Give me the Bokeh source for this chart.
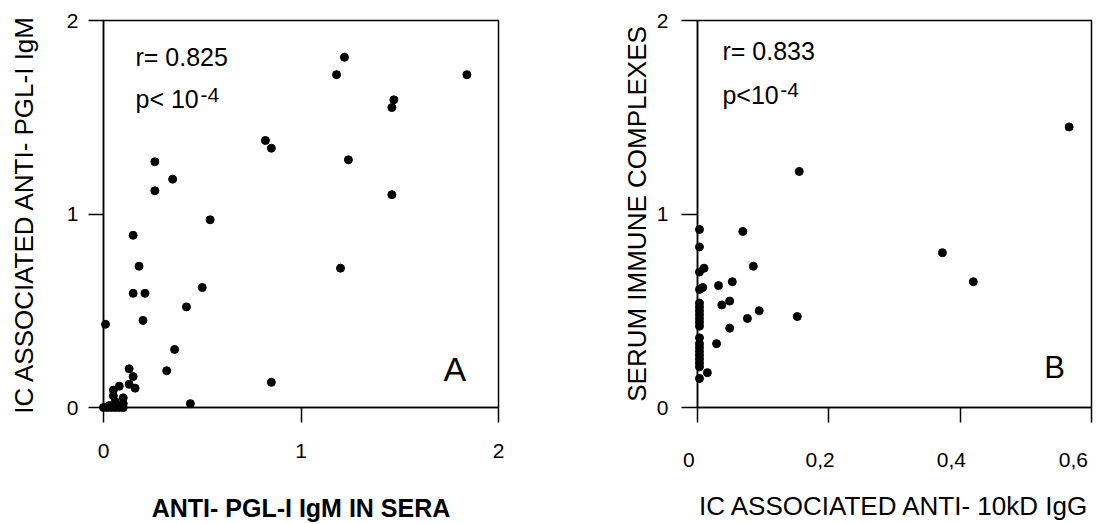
from bokeh.plotting import figure
from bokeh.layouts import row
from bokeh.models import FixedTicker, Label
from bokeh.embed import file_html
from bokeh.resources import INLINE

# ---- Panel A data: anti-PGL-I IgM in sera vs IC associated anti-PGL-I IgM
a_x = [1.84, 1.22, 1.18, 1.47, 1.46, 0.82, 0.85, 1.24, 1.46, 1.20,
       0.26, 0.26, 0.35, 0.54, 0.15, 0.18, 0.15, 0.21, 0.50, 0.42,
       0.20, 0.01, 0.36, 0.32, 0.85, 0.44,
       0.13, 0.15, 0.13, 0.16, 0.08, 0.05, 0.05, 0.10, 0.10, 0.06,
       0.00, 0.02, 0.04, 0.06, 0.08, 0.10, 0.03, 0.07]
a_y = [1.72, 1.81, 1.72, 1.59, 1.55, 1.38, 1.34, 1.28, 1.10, 0.72,
       1.27, 1.12, 1.18, 0.97, 0.89, 0.73, 0.59, 0.59, 0.62, 0.52,
       0.45, 0.43, 0.30, 0.19, 0.13, 0.02,
       0.20, 0.16, 0.12, 0.10, 0.11, 0.09, 0.06, 0.05, 0.02, 0.03,
       0.00, 0.00, 0.00, 0.00, 0.00, 0.00, 0.01, 0.01]

# ---- Panel B data: IC associated anti-10kD IgG vs serum immune complexes
b_x = [0.566, 0.155, 0.373, 0.420, 0.069, 0.085, 0.053, 0.032, 0.049, 0.037,
       0.094, 0.076, 0.049, 0.029, 0.152, 0.015, 0.010, 0.008,
       0.003, 0.003, 0.003, 0.003, 0.003, 0.003, 0.003, 0.003, 0.003, 0.003,
       0.003, 0.003, 0.003, 0.003, 0.003, 0.003, 0.003, 0.003, 0.003, 0.003]
b_y = [1.45, 1.22, 0.80, 0.65, 0.91, 0.73, 0.65, 0.63, 0.55, 0.53,
       0.50, 0.46, 0.41, 0.33, 0.47, 0.18, 0.72, 0.62,
       0.92, 0.83, 0.70, 0.61, 0.54, 0.52, 0.50, 0.48, 0.46, 0.44,
       0.42, 0.36, 0.33, 0.31, 0.29, 0.27, 0.25, 0.23, 0.21, 0.15]

a_ticks = [0, 1, 2]
b_xticks = [0, 0.2, 0.4, 0.6]
b_xtick_labels = ["0", "0,2", "0,4", "0,6"]
b_yticks = [0, 1, 2]

FONT = "Liberation Sans"
NB = "\u00a0\u00a0\u00a0"


def style(p):
    p.outline_line_color = "black"
    p.outline_line_width = 1.5
    p.outline_line_alpha = 1.0
    p.xgrid.visible = False
    p.ygrid.visible = False
    p.background_fill_color = "white"
    p.border_fill_color = "white"
    for ax in (p.xaxis[0], p.yaxis[0]):
        ax.axis_line_width = 1.5
        ax.axis_line_color = "black"
        ax.major_tick_line_width = 1.5
        ax.major_tick_line_color = "black"
        ax.major_tick_in = 0
        ax.major_tick_out = 15
        ax.minor_tick_line_color = None
        ax.major_label_text_font = FONT
        ax.major_label_text_font_size = "21px"
        ax.major_label_text_color = "black"
        ax.axis_label_text_font = FONT
        ax.axis_label_text_font_style = "normal"
        ax.axis_label_text_color = "black"


def note(p, x, y, text, size):
    p.add_layout(Label(x=x, y=y, text=text, text_font=FONT, text_font_size=size,
                       text_color="black", text_baseline="bottom"))


# ---------------- Panel A ----------------
pA = figure(width=560, height=524, x_range=(0, 2), y_range=(0, 2),
            output_backend="svg", toolbar_location=None,
            min_border_left=103, min_border_right=62,
            min_border_top=17, min_border_bottom=112)
style(pA)
pA.xaxis.ticker = FixedTicker(ticks=a_ticks)
pA.yaxis.ticker = FixedTicker(ticks=a_ticks)
pA.xaxis.axis_label = "ANTI- PGL-I IgM IN SERA"
pA.xaxis.axis_label_text_font_size = "25px"
pA.xaxis.axis_label_text_font_style = "bold"
pA.xaxis.major_label_standoff = 21
pA.xaxis.axis_label_standoff = 33
pA.yaxis.axis_label = "IC ASSOCIATED ANTI- PGL-I IgM"
pA.yaxis.axis_label_text_font_size = "26px"
pA.yaxis.major_label_standoff = 10
pA.yaxis.axis_label_standoff = 25
pA.scatter(a_x, a_y, size=8, color="black", level="overlay")

note(pA, 0.162, 1.738, "r= 0.825", "25px")
note(pA, 0.162, 1.520, "p< 10", "25px")
note(pA, 0.491, 1.580, "-4", "21px")
note(pA, 1.722, 0.101, "A", "34px")

# ---------------- Panel B ----------------
pB = figure(width=545, height=524, x_range=(0, 0.6), y_range=(0, 2),
            output_backend="svg", toolbar_location=None,
            min_border_left=137, min_border_right=14,
            min_border_top=20, min_border_bottom=110)
style(pB)
pB.xaxis.ticker = FixedTicker(ticks=b_xticks)
pB.xaxis.major_label_overrides = {t: lab + NB for t, lab in zip(b_xticks, b_xtick_labels)}
pB.yaxis.ticker = FixedTicker(ticks=b_yticks)
pB.xaxis.axis_label = "IC ASSOCIATED ANTI- 10kD IgG"
pB.xaxis.axis_label_text_font_size = "26px"
pB.xaxis.major_label_standoff = 25
pB.xaxis.axis_label_standoff = 17
pB.yaxis.axis_label = "SERUM IMMUNE COMPLEXES"
pB.yaxis.axis_label_text_font_size = "26px"
pB.yaxis.major_tick_out = 16
pB.yaxis.major_label_standoff = 13
pB.yaxis.axis_label_standoff = 2
pB.scatter(b_x, b_y, size=8, color="black", level="overlay")

note(pB, 0.038, 1.768, "r= 0.833", "25px")
note(pB, 0.038, 1.544, "p<10", "25px")
note(pB, 0.126, 1.604, "-4", "21px")
note(pB, 0.528, 0.114, "B", "31px")

layout = row(pA, pB)
open("out.html", "w").write(file_html(layout, INLINE))
